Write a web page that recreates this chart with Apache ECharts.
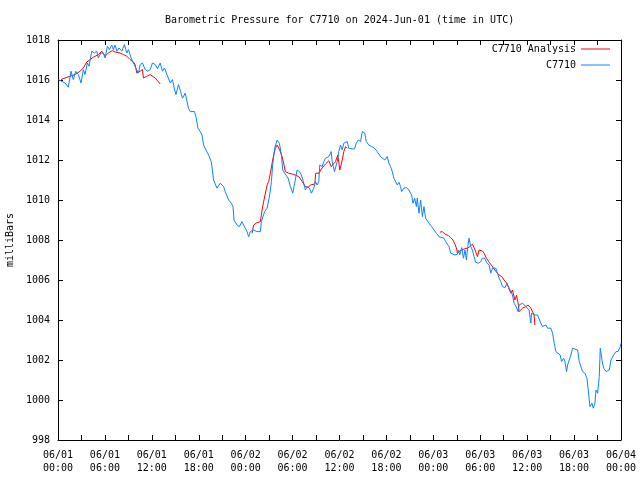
<!DOCTYPE html>
<html>
<head>
<meta charset="utf-8">
<script src="https://cdn.jsdelivr.net/npm/echarts@6/dist/echarts.min.js"></script>
<style>html,body{margin:0;padding:0;background:#fff}#c{width:640px;height:480px}</style>
</head>
<body>
<div id="c"></div>
<script>
// Hours since 2024-06-01 00:00 UTC
var blueHours = [0.04,0.90,1.32,1.67,1.96,2.27,2.60,2.95,3.24,3.46,3.75,3.97,4.32,4.65,4.96,5.16,5.47,5.80,6.02,6.32,6.57,6.88,7.08,7.30,7.52,7.81,8.16,8.49,8.80,9.01,9.35,9.65,9.95,10.29,10.51,10.80,11.15,11.49,11.79,12.08,12.43,12.72,13.07,13.36,13.62,13.93,14.13,14.35,14.64,14.86,15.08,15.41,
15.63,15.92,16.27,16.69,16.91,17.46,17.64,17.90,18.19,18.41,18.62,18.92,19.26,19.60,19.69,19.90,20.11,20.33,20.75,21.18,21.39,21.82,22.16,22.38,22.51,22.89,23.19,23.53,23.74,23.96,24.17,24.38,24.60,25.02,25.46,25.88,26.01,26.43,26.74,27.07,27.29,27.45,27.71,28.02,28.31,28.57,28.74,28.99,29.43,29.72,
29.85,30.02,30.27,30.58,30.88,31.13,31.43,31.64,31.86,32.16,32.41,32.71,32.93,33.14,33.35,33.48,33.78,33.99,34.21,34.42,34.63,34.94,35.06,35.36,35.58,35.71,35.91,36.13,36.35,36.55,36.77,36.99,37.19,37.63,37.92,38.14,38.40,38.69,38.91,39.24,39.42,39.75,40.10,40.39,40.61,40.83,41.25,41.47,41.80,42.11,42.32,42.53,42.75,42.96,43.17,43.39,43.60,43.81,
43.94,44.24,44.55,44.88,45.22,45.39,45.61,45.83,45.95,46.16,46.38,46.60,46.80,47.02,47.24,47.44,47.79,48.08,48.39,48.72,48.94,49.36,49.58,49.80,50.00,50.22,50.44,50.77,51.08,51.21,51.37,51.63,51.85,52.05,52.23,52.40,52.56,52.78,53.00,53.21,53.42,53.77,54.06,54.28,54.58,54.79,55.13,55.35,55.56,55.77,55.99,56.20,56.41,56.63,56.84,57.18,57.40,57.61,57.82,58.12,58.33,
58.61,58.84,58.97,59.41,59.83,60.25,60.47,60.56,60.89,61.33,61.53,61.75,61.97,62.39,62.61,63.03,63.25,63.46,63.67,63.89,64.22,64.40,64.66,64.83,65.04,65.17,65.38,65.59,65.81,66.02,66.45,66.66,66.88,67.09,67.39,67.64,67.81,68.03,68.29,68.45,68.67,68.80,69.01,69.22,69.35,69.57,69.78,70.08,70.50,70.72,71.06,71.36,71.62,71.91,72.00];
var bluePressure = [1016.02,1015.85,1015.64,1016.44,1016.02,1016.44,1016.27,1015.85,1016.52,1016.27,1016.85,1016.69,1017.44,1017.35,1017.44,1017.10,1017.35,1017.35,1017.10,1017.69,1017.52,1017.74,1017.52,1017.74,1017.44,1017.60,1017.44,1017.77,1017.35,1017.52,1017.10,1016.85,1016.60,1016.35,1016.77,1016.85,1016.52,1016.44,1016.52,1016.85,1016.77,1016.57,1016.85,1016.44,1016.60,1016.27,1016.35,1015.85,1016.02,1015.60,1015.27,1015.77,
1015.67,1015.09,1015.34,1014.59,1014.42,1014.42,1014.17,1013.59,1013.42,1013.25,1012.75,1012.50,1012.25,1011.92,1011.67,1011.00,1010.92,1010.59,1010.84,1010.67,1010.42,1010.00,1009.84,1009.67,1009.00,1008.75,1008.67,1008.92,1008.75,1008.84,1008.42,1008.17,1008.42,1008.50,1008.42,1008.42,1008.92,1009.42,1009.59,1010.25,1010.92,1011.75,1012.59,1013.00,1012.84,1012.25,1011.50,1011.34,1011.09,1010.67,
1010.75,1010.34,1010.84,1011.50,1011.42,1011.25,1010.84,1010.50,1010.67,1010.59,1010.34,1010.59,1010.92,1010.75,1010.92,1011.75,1011.67,1011.92,1012.09,1012.00,1012.17,1012.42,1011.92,1011.42,1011.34,1011.92,1012.42,1012.75,1012.50,1012.84,1012.92,1012.92,1012.59,1012.55,1012.55,1012.84,1013.00,1012.92,1013.42,1013.34,1012.92,1012.75,1012.67,1012.62,1012.67,1012.42,1012.17,1012.09,1012.00,1012.17,1011.84,1011.67,1011.42,1011.09,1011.00,1010.75,1010.89,1010.67,
1010.42,1010.59,1010.62,1010.50,1010.25,1009.84,1010.09,1009.67,1010.09,1009.34,1010.00,1009.17,1009.67,1009.09,1009.00,1008.84,1008.67,1008.50,1008.34,1008.17,1008.09,1008.09,1007.92,1007.84,1007.67,1007.34,1007.25,1007.25,1007.29,1007.50,1007.25,1007.62,1007.09,1007.50,1007.00,1007.67,1008.09,1007.67,1007.50,1007.17,1006.89,1006.84,1006.92,1007.09,1007.09,1006.89,1006.75,1006.34,1006.59,1006.67,1006.59,1006.34,1006.09,1005.92,1005.67,1005.62,1005.84,1005.67,1005.50,1005.25,1004.84,
1004.65,1004.42,1004.75,1004.84,1004.67,1004.50,1003.84,1004.34,1004.25,1004.25,1004.17,1003.84,1003.67,1003.75,1003.59,1003.59,1003.34,1002.84,1002.42,1002.34,1002.25,1001.92,1002.09,1001.92,1001.42,1001.75,1002.00,1002.25,1002.59,1002.50,1002.50,1001.92,1001.92,1001.42,1001.34,1001.09,1000.50,999.67,999.84,999.59,999.84,1000.50,1000.34,1001.17,1002.59,1002.00,1001.59,1001.42,1001.50,1002.00,1002.25,1002.42,1002.42,1002.67,1002.84];

var analysisHours1 = [0.38,0.90,1.54,2.18,2.82,3.24,3.68,4.10,4.52,4.74,5.16,5.60,5.80,6.02,6.44,6.96,7.30,7.94,8.37,8.80,9.22,9.65,9.86,10.08,10.51,10.80,10.93,11.36,11.79,12.04,12.43,13.07];
var analysisPressure1 = [1016.02,1016.10,1016.19,1016.27,1016.44,1016.60,1016.90,1017.02,1017.14,1017.19,1017.27,1017.44,1017.40,1017.19,1017.35,1017.47,1017.40,1017.35,1017.27,1017.19,1017.02,1016.90,1016.77,1016.35,1016.44,1016.52,1016.10,1016.19,1016.27,1016.30,1016.10,1015.80];
var analysisHours2 = [24.81,25.02,25.37,25.88,26.10,26.30,26.74,26.94,27.16,27.38,27.58,27.80,28.02,28.35,28.66,28.86,29.08,29.50,30.15,30.79,31.22,31.64,31.99,32.28,32.84,32.96,33.35,33.78,34.21,34.63,34.94,35.19,35.49,35.78,35.91,36.04,36.35,36.55,36.77,36.99];
var analysisPressure2 = [1008.34,1008.75,1008.85,1008.92,1009.50,1009.92,1010.75,1010.92,1011.34,1011.84,1012.25,1012.59,1012.75,1012.50,1012.17,1011.84,1011.42,1011.34,1011.28,1011.17,1010.93,1010.67,1010.63,1010.75,1010.80,1011.34,1011.34,1011.60,1011.80,1011.96,1011.67,1011.60,1011.92,1012.25,1012.17,1011.50,1012.00,1012.42,1012.67,1012.59];
var analysisHours3 = [48.85,49.16,49.49,49.93,50.22,50.51,50.77,50.99,51.08,51.37,51.63,51.92,52.36,52.66,53.00,53.34,53.64,53.85,54.06,54.28,54.49,54.79,55.13,55.47,55.77,56.08,56.41,56.75,57.05,57.40,57.61,57.91,58.12,58.33,58.42,58.64,58.84,58.97,59.41,59.83,60.12,60.47,60.69,60.89,60.98];
var analysisPressure3 = [1008.39,1008.42,1008.29,1008.22,1008.12,1008.00,1007.79,1007.55,1007.34,1007.45,1007.50,1007.55,1007.59,1007.67,1007.79,1007.50,1007.17,1007.50,1007.59,1007.45,1007.34,1007.09,1006.89,1006.72,1006.55,1006.39,1006.25,1006.17,1006.00,1005.84,1005.62,1005.34,1005.50,1005.45,1005.00,1005.24,1004.84,1004.42,1004.59,1004.67,1004.75,1004.59,1004.50,1004.25,1003.75];

var xTickLabels = ['06/01\n00:00','06/01\n06:00','06/01\n12:00','06/01\n18:00','06/02\n00:00','06/02\n06:00','06/02\n12:00','06/02\n18:00','06/03\n00:00','06/03\n06:00','06/03\n12:00','06/03\n18:00','06/04\n00:00'];

function zip(a, b) { var r = []; for (var i = 0; i < Math.min(a.length, b.length); i++) r.push([a[i], b[i]]); return r; }

var FONT = 'DejaVu Sans Mono';
var RED = '#ff0000', BLUE = '#0a84ff';
var chart = echarts.init(document.getElementById('c'), null, {renderer: 'canvas'});

var tickCommon = {show: true, inside: true, length: 5, lineStyle: {color: '#000', width: 1}};
var minorCommon = {show: true, splitNumber: 2, length: 5, lineStyle: {color: '#000', width: 1}};

function redSeries(h, p) {
  return {name: 'C7710 Analysis', type: 'line', data: zip(h, p), showSymbol: false, symbol: 'none',
    lineStyle: {color: RED, width: 1}, itemStyle: {color: RED}, z: 2, xAxisIndex: 0, yAxisIndex: 0};
}

chart.setOption({
  animation: false,
  backgroundColor: '#fff',
  title: {text: 'Barometric Pressure for C7710 on 2024-Jun-01 (time in UTC)', left: 160, top: 10,
    textStyle: {fontFamily: FONT, fontSize: 10, fontWeight: 'normal', color: '#000'}},
  grid: {left: 58, right: 19, top: 40, bottom: 40, containLabel: false, outerBoundsMode: 'none'},
  legend: [
    {data: ['C7710 Analysis'], right: 30, top: 44, orient: 'vertical', align: 'right', padding: 0,
     icon: 'rect', itemWidth: 29, itemHeight: 1, itemGap: 0,
     textStyle: {fontFamily: FONT, fontSize: 10, color: '#000'}},
    {data: ['C7710'], right: 30, top: 60, orient: 'vertical', align: 'right', padding: 0,
     icon: 'rect', itemWidth: 29, itemHeight: 1, itemGap: 0,
     textStyle: {fontFamily: FONT, fontSize: 10, color: '#000'}}
  ],
  xAxis: [
    {type: 'value', min: 0, max: 72, interval: 6, position: 'bottom',
     axisLine: {show: true, onZero: false, lineStyle: {color: '#000', width: 1}},
     axisTick: tickCommon, minorTick: minorCommon, splitLine: {show: false},
     axisLabel: {margin: 9, fontFamily: FONT, fontSize: 10, color: '#000', lineHeight: 13,
       formatter: function (v) { return xTickLabels[Math.round(v / 6)]; }}},
    {type: 'value', min: 0, max: 72, interval: 6, position: 'top',
     axisLine: {show: true, onZero: false, lineStyle: {color: '#000', width: 1}},
     axisTick: tickCommon, minorTick: minorCommon, splitLine: {show: false},
     axisLabel: {show: false}}
  ],
  yAxis: [
    {type: 'value', min: 998, max: 1018, interval: 2, position: 'left',
     name: 'milliBars', nameLocation: 'middle', nameRotate: 90, nameGap: 41,
     nameTextStyle: {fontFamily: FONT, fontSize: 10, color: '#000'},
     axisLine: {show: true, onZero: false, lineStyle: {color: '#000', width: 1}},
     axisTick: tickCommon, splitLine: {show: false},
     axisLabel: {margin: 8, fontFamily: FONT, fontSize: 10, color: '#000',
       formatter: function (v) { return String(v); }}},
    {type: 'value', min: 998, max: 1018, interval: 2, position: 'right',
     axisLine: {show: true, onZero: false, lineStyle: {color: '#000', width: 1}},
     axisTick: tickCommon, splitLine: {show: false}, axisLabel: {show: false}}
  ],
  series: [
    redSeries(analysisHours1, analysisPressure1),
    redSeries(analysisHours2, analysisPressure2),
    redSeries(analysisHours3, analysisPressure3),
    {name: 'C7710', type: 'line', data: zip(blueHours, bluePressure), showSymbol: false, symbol: 'none',
     lineStyle: {color: BLUE, width: 1}, itemStyle: {color: BLUE}, z: 3, xAxisIndex: 0, yAxisIndex: 0}
  ]
});
</script>
</body>
</html>
